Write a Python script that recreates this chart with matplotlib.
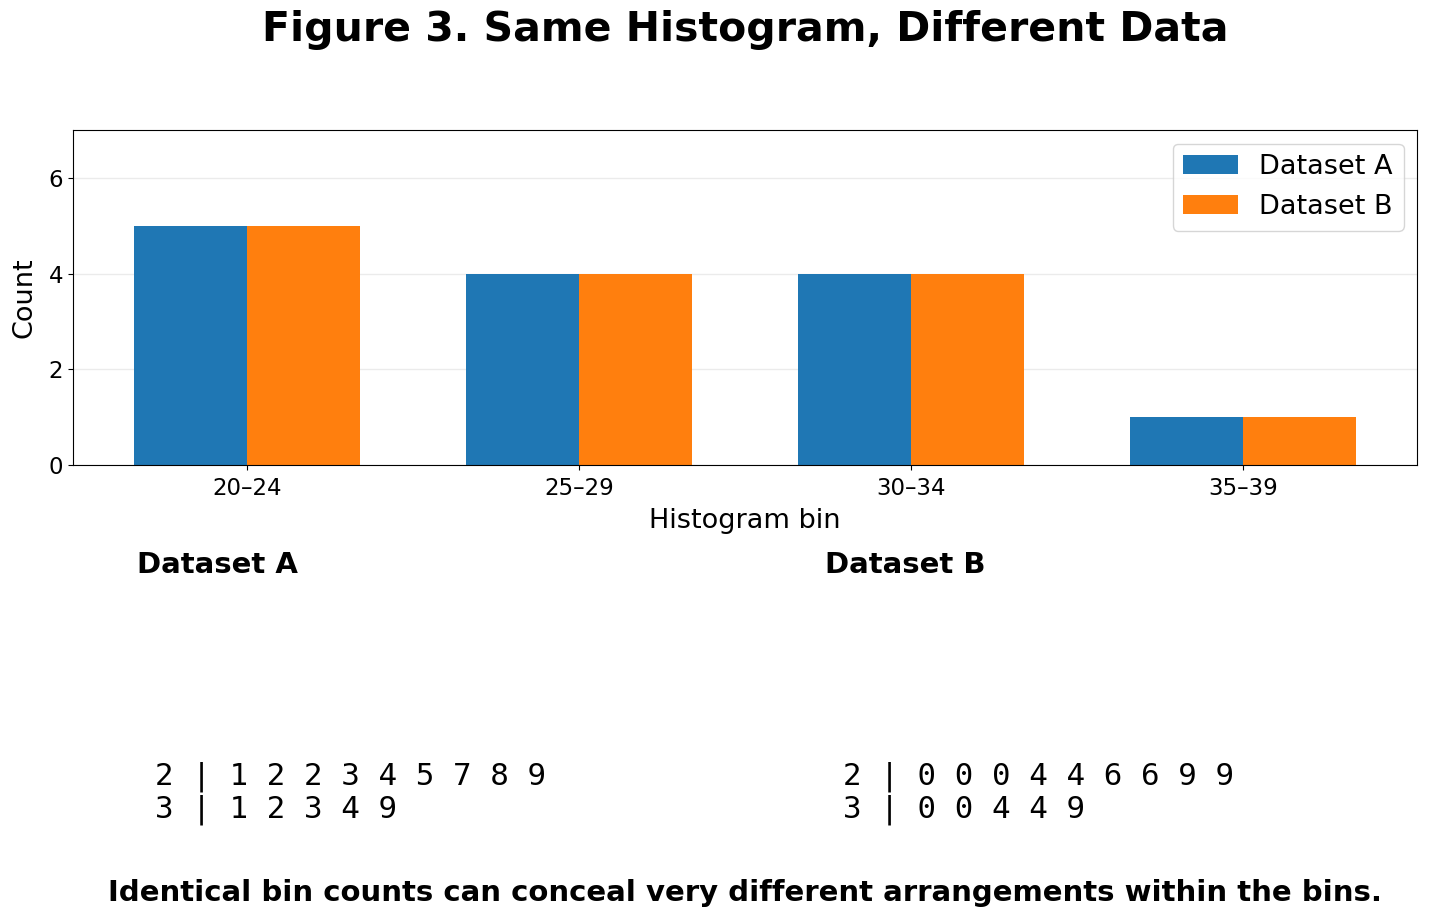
import matplotlib

matplotlib.use("Agg")
import matplotlib.pyplot as plt
import numpy as np

bins = ["20–24", "25–29", "30–34", "35–39"]
counts_a = [5, 4, 4, 1]
counts_b = [5, 4, 4, 1]

stem_a = ["2 | 1 2 2 3 4 5 7 8 9", "3 | 1 2 3 4 9"]
stem_b = ["2 | 0 0 0 4 4 6 6 9 9", "3 | 0 0 4 4 9"]

fig = plt.figure(figsize=(14.3, 9.22), dpi=100)
ax = fig.add_axes([0.051, 0.4957, 0.94, 0.3633])

x = np.arange(len(bins))
width = 0.34
ax.bar(x - width / 2, counts_a, width, label="Dataset A", color="#1f77b4", zorder=2)
ax.bar(x + width / 2, counts_b, width, label="Dataset B", color="#ff7f0e", zorder=2)

ax.set_ylim(0, 7)
ax.set_yticks([0, 2, 4, 6])
ax.set_xticks(x)
ax.set_xticklabels(bins)
ax.tick_params(labelsize=16.5)
ax.tick_params(axis="x", pad=5)
ax.set_xlabel("Histogram bin", fontsize=19.5, labelpad=6)
ax.set_ylabel("Count", fontsize=19.5, labelpad=8)
ax.grid(axis="y", color="#ebebeb", linewidth=1, zorder=0)
ax.legend(fontsize=19.5, loc="upper right")

# title and footer are centred on the axes, not the figure
mid = 745 / 1430
fig.text(mid, 1 - 30 / 922, "Figure 3. Same Histogram, Different Data", fontsize=29.5,
         fontweight="bold", ha="center", va="center")

fig.text(137 / 1430, 1 - 565 / 922, "Dataset A", fontsize=21, fontweight="bold", va="center")
fig.text(825 / 1430, 1 - 565 / 922, "Dataset B", fontsize=21, fontweight="bold", va="center")

fig.text(155 / 1430, 1 - 793 / 922, "\n".join(stem_a), fontsize=22.2, family="DejaVu Sans Mono",
         va="center", linespacing=1.12)
fig.text(843 / 1430, 1 - 793 / 922, "\n".join(stem_b), fontsize=22.2, family="DejaVu Sans Mono",
         va="center", linespacing=1.12)

fig.text(mid, 1 - 893 / 922, "Identical bin counts can conceal very different arrangements within the bins.",
         fontsize=21, fontweight="bold", ha="center", va="center")

fig.savefig("out.png", dpi=100)
